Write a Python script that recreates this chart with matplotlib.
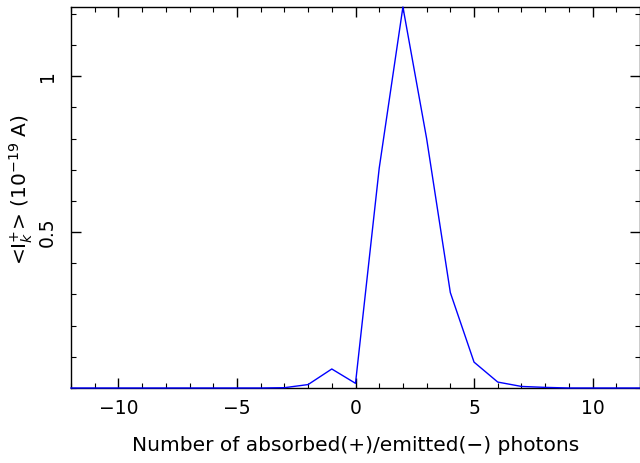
import numpy as np
import matplotlib
matplotlib.use('Agg')
import matplotlib.pyplot as plt
from matplotlib.ticker import MultipleLocator

# photon number k and mean current <I+_k> (units of 1e-19 A)
k = list(range(-12, 13))
current = [0, 0, 0, 0, 0, 0, 0, 0, 0, 0.001, 0.011, 0.061, 0.015,
           0.705, 1.222, 0.80, 0.306, 0.083, 0.019, 0.005, 0.002,
           0, 0, 0, 0]

x_ticks = [-10, -5, 0, 5, 10]
y_ticks = [0.5, 1.0]
y_ticklabels = ["0.5", "1"]

plt.rcParams['font.family'] = ['DejaVu Sans']

fig = plt.figure(figsize=(6.4, 4.63), dpi=100)
ax = fig.add_axes([71 / 640, 1 - 388 / 463, 569 / 640, 381 / 463])

ax.plot(k, current, color=(0, 0, 1), lw=1.0, clip_on=False, zorder=3)

ax.set_xlim(-12, 12)
ax.set_ylim(0, 1.222)

ax.set_xticks(x_ticks)
ax.set_xticklabels([str(t).replace("-", "\u2212") for t in x_ticks])
ax.xaxis.set_minor_locator(MultipleLocator(1))
ax.set_yticks(y_ticks)
ax.set_yticklabels(y_ticklabels, rotation=90, va="center")
ax.yaxis.set_minor_locator(MultipleLocator(0.1))

ax.tick_params(which="both", direction="in", top=True, right=True,
               labelsize=13.5, color="black")
ax.tick_params(which="major", length=7.5, width=1.0, pad=8)
ax.tick_params(which="minor", length=3.6, width=0.8)
ax.tick_params(axis="y", pad=10)

for sp in ax.spines.values():
    sp.set_linewidth(1.0)

ax.set_xlabel("Number of absorbed(+)/emitted(\u2212) photons", fontsize=14.5,
              labelpad=13)
ax.set_ylabel(r"<I$^{+}_{k}$> (10$^{-19}$ A)", fontsize=14.5)
ax.yaxis.set_label_coords(-0.064, 0.52)

fig.savefig("out.png", dpi=100)
